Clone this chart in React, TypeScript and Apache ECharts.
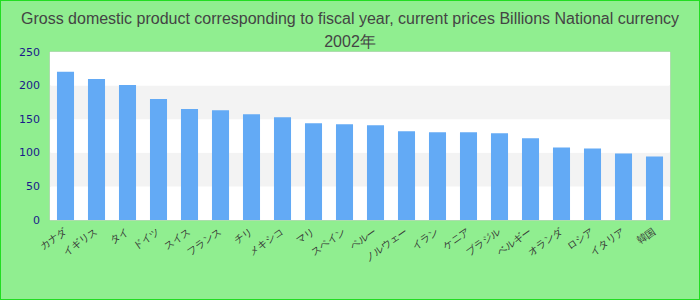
import React, { useEffect, useRef } from "react";
import * as echarts from "echarts";

const titleLine1 =
  "Gross domestic product corresponding to fiscal year, current prices Billions National currency";
const titleLine2 = "2002年";

const categories = [
  "カナダ", "イギリス", "タイ", "ドイツ", "スイス", "フランス", "チリ", "メキシコ", "マリ", "スペイン",
  "ペルー", "ノルウェー", "イラン", "ケニア", "ブラジル", "ベルギー", "オランダ", "ロシア", "イタリア", "韓国",
];

const values = [
  220.5, 210, 201, 180, 165, 163.5, 157.5, 153, 144, 142.5,
  141, 132, 130.5, 130.5, 129, 121.5, 108, 106.5, 99, 94.5,
];

const yTicks = { min: 0, max: 250, interval: 50 };

export default function App() {
  const ref = useRef<HTMLDivElement>(null);

  useEffect(() => {
    document.body.style.margin = "0";
    if (!ref.current) return;
    const chart = echarts.init(ref.current, undefined, { renderer: "svg" });
    chart.setOption({
      animation: false,
      backgroundColor: "#90ee90",
      title: {
        text: titleLine1 + "\n" + titleLine2,
        left: "center",
        top: 1,
        textStyle: {
          fontFamily: "Liberation Sans, Arial, sans-serif",
          fontSize: 16,
          fontWeight: "normal",
          color: "#444",
          lineHeight: 23,
        },
      },
      grid: {
        left: 49,
        right: 29,
        top: 51,
        bottom: 79,
        show: true,
        backgroundColor: "#fff",
        borderColor: "#ccc",
        borderWidth: 1,
      },
      xAxis: {
        type: "category",
        data: categories,
        axisLine: { show: false },
        axisTick: { show: false },
        axisLabel: {
          interval: 0,
          rotate: 35,
          fontSize: 10,
          color: "#333",
          margin: 10,
        },
      },
      yAxis: {
        type: "value",
        min: yTicks.min,
        max: yTicks.max,
        interval: yTicks.interval,
        axisLine: { show: false },
        axisTick: { show: false },
        splitLine: { show: false },
        splitArea: { show: true, areaStyle: { color: ["#ffffff", "#f3f3f3"] } },
        axisLabel: {
          fontFamily: "DejaVu Sans, sans-serif",
          fontSize: 11,
          color: "#1a1a8a",
          margin: 10,
        },
      },
      series: [
        {
          type: "bar",
          data: values,
          barWidth: "55%",
          itemStyle: { color: "#63aaf5" },
        },
      ],
    });
    return () => chart.dispose();
  }, []);

  return (
    <div
      style={{
        width: 700,
        height: 300,
        boxSizing: "border-box",
        border: "1px solid #22dd22",
      }}
    >
      <div ref={ref} style={{ width: 698, height: 298 }} />
    </div>
  );
}
